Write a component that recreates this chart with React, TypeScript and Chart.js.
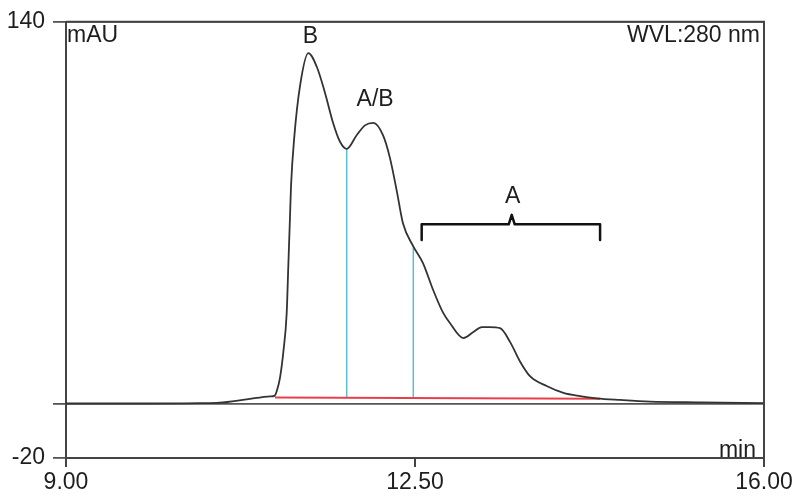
import React, { useEffect, useRef } from "react";
import { Chart, registerables } from "chart.js";

Chart.register(...registerables);

// Chromatogram signal (time in min, absorbance in mAU)
const times = [
  9.0, 9.84, 10.34, 10.54, 10.81, 11.05, 11.09, 11.113, 11.146, 11.18, 11.213, 11.23, 11.246,
  11.257, 11.29, 11.347, 11.43, 11.514, 11.597, 11.678, 11.748, 11.815, 11.915, 11.998, 12.082,
  12.179, 12.249, 12.317, 12.38, 12.483, 12.58, 12.68, 12.78, 12.85, 12.985, 13.085, 13.17,
  13.25, 13.353, 13.453, 13.553, 13.653, 13.82, 13.988, 14.155, 14.322, 14.556, 14.857, 15.358,
  16.0,
];
const signal = [
  0, 0, 0.1, 0.3, 1.5, 2.6, 2.8, 4.5, 9.4, 19, 33, 51, 68, 80, 98, 116.5, 128.5, 123.6, 114,
  103, 96, 93.4, 98.4, 102, 102.9, 98.4, 90, 78, 66, 57.6, 51.5, 41.8, 33.4, 29.5, 24, 26.2,
  28, 28, 27.6, 22.6, 15.4, 10, 6.4, 3.9, 2.7, 1.9, 1.3, 0.7, 0.4, 0.1,
];

// Integration baseline
const baselineTimes = [11.096, 14.356];
const baselineValues = [2.2, 1.7];

// Peak split (drop) lines
const cutTimes = [11.815, 12.483];
const cutTops = [93.4, 57.6];
const cutBottoms = [2.0, 1.95];

// Bracket over fraction A
const bracketTimes = [12.567, 12.567, 13.44, 13.47, 13.5, 14.356, 14.356];
const bracketValues = [60, 65.7, 65.7, 69.2, 65.7, 65.7, 60];

// Peak labels
const peakLabels = ["B", "A/B", "A"];
const peakLabelTimes = [11.45, 12.1, 13.48];
const peakLabelValues = [134.5, 111.5, 76];

// Axis ticks
const xTicks = [9.0, 12.5, 16.0];
const yTicks = [-20, 0, 140];
const yLabeled = [-20, 140];

const FONT = "'Liberation Sans', Arial, sans-serif";

const App: React.FC = () => {
  const ref = useRef<HTMLCanvasElement | null>(null);

  useEffect(() => {
    const canvas = ref.current;
    if (!canvas) return;

    const textPlugin = {
      id: "annot",
      afterDatasetsDraw(chart: any) {
        const { ctx, chartArea, scales } = chart;
        ctx.save();
        // frame
        ctx.strokeStyle = "#444";
        ctx.lineWidth = 2;
        ctx.beginPath();
        ctx.moveTo(chartArea.left, chartArea.top);
        ctx.lineTo(chartArea.right, chartArea.top);
        ctx.lineTo(chartArea.right, chartArea.bottom);
        ctx.stroke();

        ctx.fillStyle = "#1e1e1e";
        ctx.font = `23px ${FONT}`;
        ctx.textBaseline = "top";
        ctx.textAlign = "left";
        ctx.fillText("mAU", chartArea.left + 1, chartArea.top + 2);
        ctx.textAlign = "right";
        ctx.fillText("WVL:280 nm", chartArea.right - 4, chartArea.top + 2);
        ctx.textBaseline = "alphabetic";
        ctx.fillText("min", chartArea.right - 8, chartArea.bottom - 1);

        ctx.font = `23px ${FONT}`;
        ctx.textAlign = "center";
        ctx.textBaseline = "middle";
        peakLabels.forEach((lab, i) => {
          ctx.fillText(
            lab,
            scales.x.getPixelForValue(peakLabelTimes[i]),
            scales.y.getPixelForValue(peakLabelValues[i])
          );
        });
        ctx.restore();
      },
    };

    const curve = times.map((t, i) => ({ x: t, y: signal[i] }));
    const baseline = baselineTimes.map((t, i) => ({ x: t, y: baselineValues[i] }));
    const bracket = bracketTimes.map((t, i) => ({ x: t, y: bracketValues[i] }));
    const cuts = cutTimes.map((t, i) => ({
      type: "line" as const,
      data: [
        { x: t, y: cutBottoms[i] },
        { x: t, y: cutTops[i] },
      ],
      borderColor: "#5bbcd6",
      borderWidth: 1.5,
      pointRadius: 0,
      tension: 0,
      order: 3,
    }));

    const chart = new Chart(canvas, {
      type: "line",
      data: {
        datasets: [
          {
            data: curve,
            borderColor: "#333",
            borderWidth: 1.8,
            pointRadius: 0,
            cubicInterpolationMode: "monotone",
            order: 0,
          } as any,
          {
            data: baseline,
            borderColor: "#e8404a",
            borderWidth: 2,
            pointRadius: 0,
            tension: 0,
            order: 2,
          },
          ...cuts,
          {
            data: bracket,
            borderColor: "#111",
            borderWidth: 2.5,
            pointRadius: 0,
            tension: 0,
            borderJoinStyle: "round",
            borderCapStyle: "round",
            order: 1,
          } as any,
        ],
      },
      options: {
        animation: false,
        responsive: false,
        events: [],
        layout: { padding: { top: 15, right: 36, left: 0, bottom: 0 } },
        plugins: { legend: { display: false }, tooltip: { enabled: false } },
        scales: {
          x: {
            type: "linear",
            min: 9,
            max: 16,
            afterFit: (s: any) => {
              s.height = 42;
            },
            afterBuildTicks: (s: any) => {
              s.ticks = xTicks.map((v) => ({ value: v }));
            },
            ticks: {
              callback: (v: any) => Number(v).toFixed(2),
              font: { size: 23, family: FONT },
              color: "#1e1e1e",
              padding: 2,
              maxRotation: 0,
              autoSkip: false,
            },
            grid: {
              drawOnChartArea: false,
              drawTicks: true,
              tickLength: 9,
              color: "#444",
              lineWidth: 2,
            },
            border: { display: true, color: "#444", width: 2 },
          },
          y: {
            type: "linear",
            min: -20,
            max: 140,
            afterFit: (s: any) => {
              s.width = 66;
            },
            afterBuildTicks: (s: any) => {
              s.ticks = yTicks.map((v) => ({ value: v }));
            },
            ticks: {
              callback: (v: any) => (yLabeled.includes(Number(v)) ? String(v) : ""),
              font: { size: 23, family: FONT },
              color: "#1e1e1e",
              padding: 8,
              autoSkip: false,
            },
            grid: {
              drawOnChartArea: true,
              drawTicks: true,
              tickLength: 13,
              color: "#555",
              lineWidth: 1.8,
            },
            border: { display: true, color: "#444", width: 2 },
          },
        },
      },
      plugins: [textPlugin],
    });

    return () => chart.destroy();
  }, []);

  return (
    <div style={{ position: "absolute", left: 0, top: 0, width: 800, height: 500, background: "#fff" }}>
      <canvas ref={ref} width={800} height={500} style={{ display: "block" }} />
    </div>
  );
};

export default App;
